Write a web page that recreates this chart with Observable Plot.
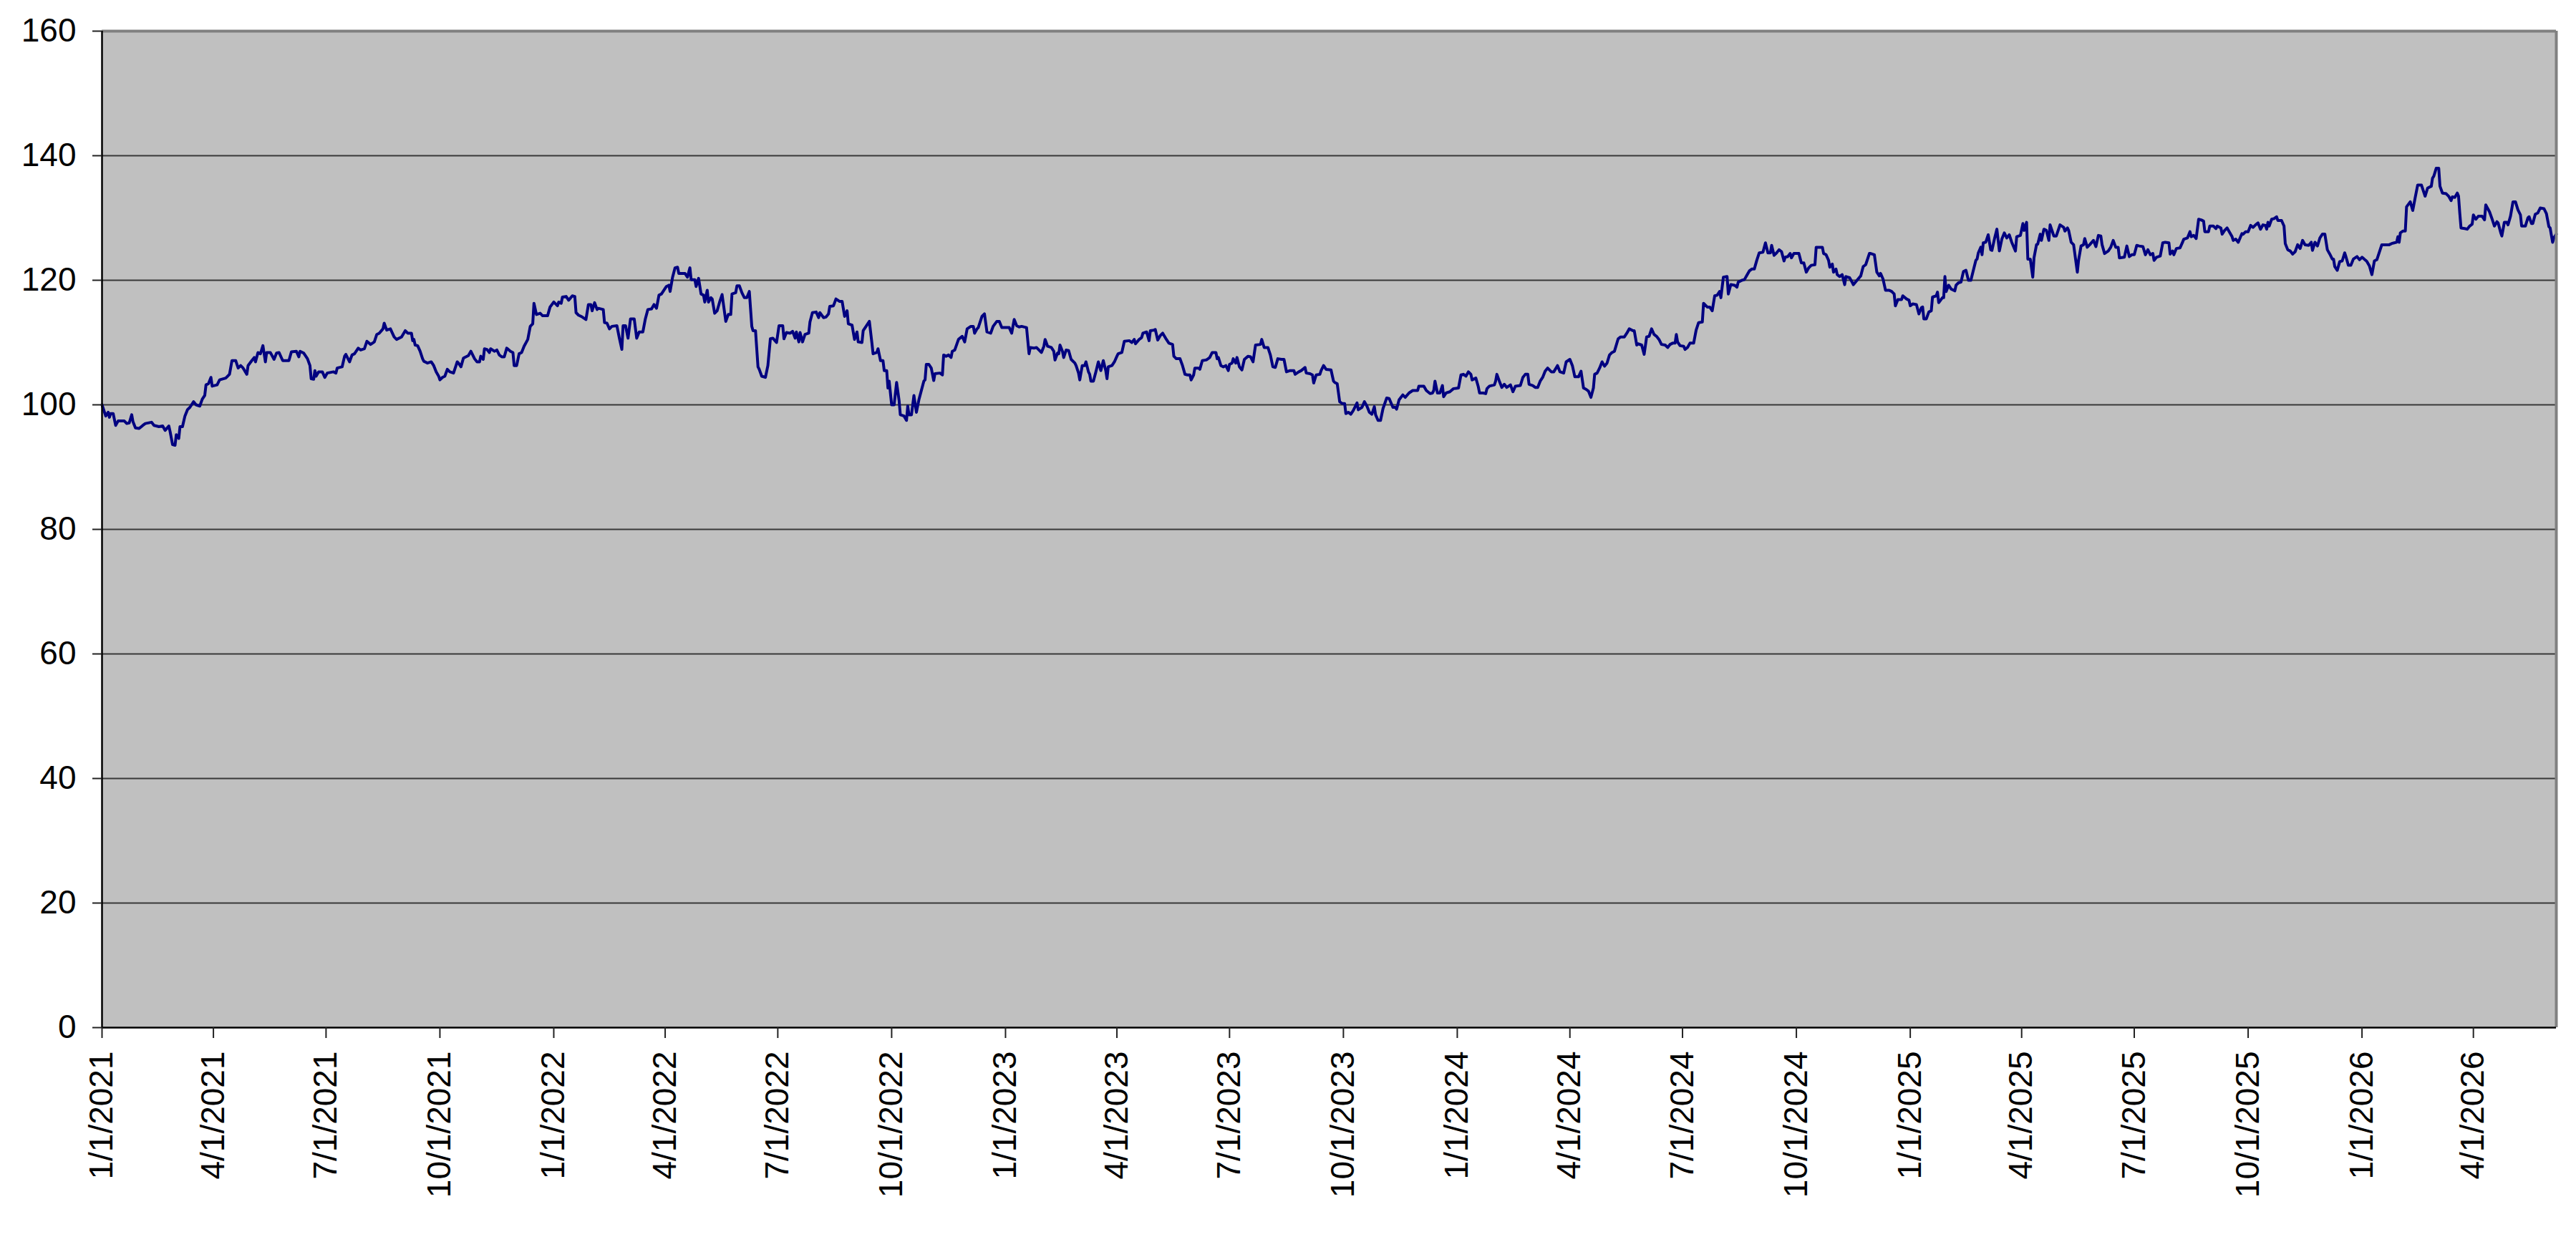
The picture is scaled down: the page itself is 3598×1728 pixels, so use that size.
<!DOCTYPE html>
<html>
<head>
<meta charset="utf-8">
<script src="https://cdn.jsdelivr.net/npm/d3@7"></script>
<script src="https://cdn.jsdelivr.net/npm/@observablehq/plot@0.6"></script>
<style>
  html, body { margin: 0; padding: 0; background: #ffffff; }
  #chart svg { display: block; }
</style>
</head>
<body>
<div id="chart"></div>
<script>
// ---- data (month-day per year) ----
const md2021 = [
"01-01","01-04","01-06","01-07","01-08","01-10","01-12","01-14","01-19","01-21",
"01-23","01-25","01-26","01-28","01-31","02-03","02-05","02-10","02-12","02-16",
"02-19","02-21","02-24","02-25","02-27","03-01","03-02","03-04","03-05","03-07",
"03-09","03-11","03-13","03-16","03-18","03-21","03-23","03-25","03-26","03-28",
"03-30","03-31","04-04","04-06","04-11","04-14","04-16","04-19","04-21","04-23",
"04-25","04-28","04-29","05-02","05-04","05-05","05-07","05-09","05-11","05-13",
"05-14","05-17","05-20","05-22","05-24","05-27","06-01","06-03","06-07","06-09",
"06-10","06-13","06-16","06-18","06-19","06-21","06-22","06-23","06-25","06-28",
"06-30","07-02","07-07","07-09","07-10","07-14","07-16","07-17","07-20","07-22",
"07-24","07-27","07-29","08-01","08-03","08-06","08-09","08-11","08-13","08-16",
"08-17","08-19","08-22","08-25","08-27","08-31","09-03","09-05","09-08","09-09",
"09-10","09-11","09-13","09-15","09-17","09-18","09-21","09-24","09-26","09-28",
"09-30","10-01","10-03","10-05","10-07","10-09","10-12","10-15","10-16","10-18",
"10-20","10-24","10-26","10-29","10-31","11-02","11-03","11-05","11-06","11-08",
"11-10","11-11","11-14","11-16","11-18","11-20","11-22","11-24","11-27","11-29",
"11-30","12-02","12-04","12-06","12-08","12-11","12-13","12-15","12-16","12-18",
"12-21","12-23","12-27","12-29"];
const v2021 = [
100.0,98.2,98.8,98.0,98.6,98.6,96.7,97.4,97.4,97.0,
97.1,98.4,97.3,96.3,96.2,96.7,97.0,97.2,96.7,96.5,
96.6,95.9,96.6,95.7,93.6,93.5,95.2,94.6,96.5,96.5,
98.2,99.2,99.6,100.5,100.0,99.8,100.9,101.5,103.2,103.4,
104.4,103.0,103.2,104.0,104.3,104.9,107.1,107.1,105.9,106.3,
105.9,104.9,106.3,107.1,107.6,106.9,108.4,108.2,109.5,106.9,
108.4,108.4,107.3,108.3,108.4,107.1,107.1,108.5,108.6,107.7,
108.6,108.3,107.4,106.3,104.2,104.1,105.5,104.6,105.3,105.3,
104.4,105.1,105.3,105.1,105.9,106.1,107.8,108.1,106.9,108.0,
108.2,109.1,108.8,109.0,110.2,109.7,110.1,111.3,111.5,112.2,
113.1,112.0,112.2,110.9,110.5,110.9,111.9,111.5,111.5,110.3,
110.5,109.6,109.5,108.6,107.4,107.0,106.7,106.9,106.3,105.3,
104.6,104.0,104.4,104.6,105.7,105.3,105.1,106.9,106.7,106.1,
107.5,107.9,108.6,107.4,106.9,106.9,107.8,107.3,109.0,108.9,
108.4,109.0,108.6,108.8,108.0,107.7,107.7,109.1,108.6,108.4,
106.3,106.3,108.2,108.4,109.4,110.5,112.6,113.0,116.3,114.5,
114.7,114.3,114.3,115.7];

const md2022 = [
"01-01","01-04","01-05","01-07","01-08","01-11","01-13","01-16","01-18","01-19",
"01-21","01-24","01-27","01-29","01-31","02-01","02-03","02-05","02-06","02-10",
"02-11","02-13","02-15","02-17","02-21","02-23","02-25","02-26","02-28","03-02",
"03-04","03-07","03-09","03-11","03-14","03-16","03-18","03-21","03-23","03-25",
"03-27","03-29","03-31","04-02","04-04","04-05","04-07","04-09","04-11","04-12",
"04-17","04-19","04-21","04-22","04-25","04-26","04-28","04-30","05-02","05-03",
"05-05","05-06","05-08","05-09","05-11","05-13","05-15","05-17","05-20","05-22",
"05-24","05-25","05-28","05-29","05-31","06-02","06-04","06-06","06-08","06-10",
"06-11","06-13","06-15","06-16","06-18","06-21","06-23","06-25","06-27","06-30",
"07-02","07-05","07-06","07-08","07-11","07-13","07-15","07-16","07-18","07-19",
"07-21","07-23","07-26","07-27","07-29","08-01","08-03","08-04","08-07","08-09",
"08-11","08-12","08-15","08-17","08-20","08-22","08-24","08-26","08-27","08-30",
"09-01","09-03","09-04","09-07","09-08","09-11","09-13","09-15","09-16","09-19",
"09-20","09-22","09-24","09-25","09-27","09-28","09-29","10-01","10-03","10-05",
"10-07","10-08","10-11","10-13","10-14","10-15","10-17","10-19","10-21","10-23",
"10-25","10-27","10-28","10-29","10-31","11-02","11-04","11-05","11-09","11-11",
"11-12","11-14","11-16","11-18","11-19","11-21","11-24","11-27","11-29","12-01",
"12-04","12-06","12-07","12-09","12-10","12-13","12-15","12-17","12-20","12-22",
"12-25","12-27","12-29"];
const v2022 = [
116.5,115.9,116.5,116.3,117.3,117.4,116.8,117.5,117.4,114.8,
114.4,114.1,113.7,116.1,116.1,115.1,116.4,115.3,115.5,115.3,
113.2,113.1,112.2,112.6,112.7,110.7,108.9,112.7,112.7,110.7,
113.8,113.8,110.7,111.7,111.7,113.8,115.3,115.4,116.1,115.5,
117.6,117.8,118.4,119.0,119.2,118.2,120.5,122.0,122.1,121.1,
121.1,120.5,122.0,120.1,120.1,119.0,120.3,117.8,117.6,116.5,
118.4,116.5,117.2,117.0,114.7,115.1,116.5,117.7,113.4,114.5,
114.5,117.8,118.0,119.1,119.1,118.0,117.2,117.2,118.2,112.6,
111.9,111.9,106.1,105.7,104.6,104.4,106.3,110.6,110.7,110.0,
112.7,112.7,110.6,111.6,111.5,111.8,110.7,111.7,110.1,111.6,
110.1,111.3,111.5,113.3,114.8,114.9,114.0,114.8,114.0,114.1,
114.6,115.8,115.9,117.0,116.6,116.6,114.2,115.1,113.0,112.8,
110.5,111.7,110.1,110.0,111.9,112.8,113.4,110.0,108.2,108.4,
109.0,107.1,107.1,105.5,105.5,102.7,103.8,100.0,100.0,103.6,
100.7,98.4,98.2,97.5,99.8,98.4,98.4,101.5,98.8,100.8,
102.3,103.8,104.0,106.5,106.5,105.9,103.9,105.0,105.1,104.8,
108.0,107.8,108.0,107.6,108.6,108.8,110.5,111.0,110.1,112.2,
112.6,112.6,111.5,112.2,112.4,114.2,114.6,111.7,111.5,112.6,
113.4,113.4,112.4];

const md2023 = [
"01-02","01-04","01-06","01-08","01-10","01-12","01-14","01-18","01-19","01-20",
"01-21","01-24","01-26","01-29","01-30","02-01","02-02","02-04","02-07","02-09",
"02-10","02-12","02-13","02-14","02-16","02-17","02-19","02-21","02-23","02-26",
"02-27","03-01","03-02","03-04","03-06","03-07","03-09","03-10","03-11","03-13",
"03-15","03-17","03-19","03-21","03-23","03-24","03-25","03-28","03-30","04-01",
"04-02","04-05","04-07","04-11","04-13","04-15","04-16","04-19","04-21","04-22",
"04-25","04-27","04-28","05-01","05-02","05-04","05-06","05-08","05-11","05-13",
"05-16","05-17","05-19","05-22","05-24","05-26","05-28","05-30","05-31","06-02",
"06-03","06-06","06-07","06-09","06-12","06-13","06-15","06-17","06-20","06-21",
"06-22","06-24","06-26","06-28","06-30","07-01","07-03","07-04","07-06","07-07",
"07-09","07-11","07-13","07-16","07-18","07-20","07-22","07-26","07-27","07-29",
"08-01","08-03","08-05","08-07","08-09","08-12","08-14","08-16","08-19","08-22",
"08-23","08-26","08-28","08-31","09-01","09-04","09-06","09-07","09-09","09-12",
"09-13","09-15","09-17","09-21","09-23","09-24","09-26","09-28","09-30","10-02",
"10-03","10-05","10-07","10-09","10-12","10-13","10-16","10-18","10-20","10-22",
"10-24","10-26","10-27","10-29","10-31","11-02","11-05","11-07","11-10","11-12",
"11-13","11-15","11-18","11-20","11-23","11-26","11-30","12-01","12-05","12-07",
"12-10","12-12","12-13","12-14","12-16","12-18","12-20","12-21","12-23","12-26",
"12-29"];
const v2023 = [
112.4,112.4,111.5,113.7,112.7,112.5,112.6,112.4,110.3,108.2,
109.2,109.1,109.2,108.6,108.4,109.4,110.5,109.4,109.2,108.6,
107.2,108.3,108.2,109.6,108.6,107.6,108.8,108.7,107.3,106.7,
106.3,105.1,104.0,106.3,106.3,106.9,105.3,104.9,103.8,103.8,
105.3,106.9,105.5,107.1,105.5,104.2,106.1,106.3,106.9,107.8,
108.2,108.4,110.2,110.3,110.0,110.5,109.8,110.5,110.8,111.5,
111.7,110.3,111.9,112.0,112.1,110.4,111.1,111.5,110.5,109.9,
109.7,107.8,107.4,107.4,106.3,104.9,104.8,104.8,104.0,104.8,
105.9,105.9,105.7,107.1,107.2,107.3,107.6,108.4,108.4,107.4,
107.6,106.3,106.1,106.3,105.5,106.5,106.7,107.4,106.7,107.6,
106.1,105.6,107.3,107.8,107.7,106.9,109.6,109.7,110.5,109.2,
109.2,108.0,106.1,106.0,107.4,107.3,107.3,105.3,105.5,105.5,
104.9,105.3,105.5,106.0,105.1,105.0,104.8,103.5,104.8,104.9,
105.5,106.3,105.7,105.6,103.8,103.6,103.4,100.5,100.2,100.2,
98.6,98.8,98.5,99.1,100.3,99.2,99.6,100.5,99.8,98.8,
98.5,99.7,98.4,97.5,97.5,99.4,101.1,101.0,99.6,99.6,
99.3,100.8,101.6,101.2,101.9,102.3,102.3,103.0,103.0,102.3,
101.8,101.9,102.3,103.8,101.9,101.9,103.1,101.3,101.9,102.1,
102.6];

const md2024 = [
"01-02","01-04","01-06","01-08","01-10","01-12","01-13","01-16","01-18","01-19",
"01-22","01-24","01-25","01-27","01-31","02-01","02-02","02-04","02-06","02-08",
"02-10","02-13","02-15","02-17","02-21","02-23","02-25","02-27","02-28","03-02",
"03-04","03-06","03-08","03-10","03-12","03-14","03-17","03-19","03-22","03-24",
"03-27","03-29","04-01","04-03","04-05","04-08","04-10","04-12","04-14","04-16",
"04-18","04-20","04-21","04-23","04-25","04-27","04-29","05-01","05-03","05-05",
"05-07","05-10","05-12","05-15","05-17","05-19","05-22","05-23","05-25","05-26",
"05-29","05-31","06-02","06-04","06-06","06-08","06-10","06-12","06-14","06-17",
"06-19","06-21","06-23","06-25","06-26","06-27","06-29","07-02","07-03","07-05",
"07-07","07-10","07-12","07-14","07-17","07-18","07-21","07-23","07-25","07-27",
"07-29","07-31","08-01","08-03","08-06","08-07","08-09","08-12","08-14","08-15",
"08-18","08-20","08-22","08-24","08-26","08-28","08-30","09-01","09-04","09-06",
"09-08","09-10","09-11","09-13","09-15","09-17","09-19","09-21","09-22","09-24",
"09-26","09-27","09-29","10-03","10-05","10-07","10-09","10-11","10-13","10-16",
"10-17","10-20","10-22","10-23","10-25","10-27","10-28","10-30","10-31","11-02",
"11-03","11-05","11-07","11-09","11-10","11-13","11-15","11-16","11-19","11-22",
"11-24","11-26","11-29","11-30","12-03","12-05","12-07","12-08","12-10","12-12",
"12-15","12-17","12-19","12-20","12-22","12-25","12-26","12-29","12-31"];
const v2024 = [
102.7,104.8,104.9,104.6,105.3,104.9,104.0,104.3,102.9,101.9,
101.9,101.8,102.6,103.0,103.2,103.8,104.9,103.8,102.8,103.3,
102.8,103.2,102.1,103.0,103.1,104.4,104.9,104.9,103.3,103.1,
102.8,102.8,103.8,104.4,105.4,105.9,105.3,105.3,106.3,105.3,
105.1,106.9,107.3,106.3,104.5,104.5,105.4,102.7,102.5,102.2,
101.2,102.7,104.9,105.1,105.9,106.9,106.2,106.7,108.0,108.4,
108.6,110.6,110.9,110.9,111.5,112.2,111.9,111.9,109.6,109.8,
109.6,108.1,110.9,111.0,112.2,111.3,111.0,110.5,109.7,109.6,
109.2,109.7,109.9,109.9,111.3,110.1,109.5,109.4,108.9,109.2,
109.9,109.9,112.0,113.2,113.3,116.3,115.7,115.7,115.1,117.5,
117.6,118.2,117.2,120.5,120.6,117.8,119.3,119.2,118.9,119.7,
120.0,120.1,120.8,121.5,121.8,121.8,123.2,124.4,124.5,126.0,
124.4,124.4,125.6,124.0,124.4,124.9,124.6,123.1,123.7,123.8,
124.3,123.6,124.3,124.3,122.8,122.8,121.3,122.0,122.4,122.5,
125.3,125.3,125.3,124.3,124.1,123.2,122.1,122.6,121.3,121.8,
120.9,120.6,120.9,119.3,120.6,120.4,119.7,119.3,120.0,120.7,
122.2,122.5,124.3,124.3,124.1,121.3,120.7,121.1,120.2,118.4,
118.4,118.2,117.8,115.9,116.9,116.9,117.5,117.0,116.8];

const md2025 = [
"01-01","01-03","01-06","01-08","01-10","01-11","01-12","01-14","01-16","01-18",
"01-19","01-22","01-23","01-24","01-27","01-28","01-29","01-30","02-01","02-03",
"02-06","02-07","02-09","02-11","02-13","02-15","02-17","02-19","02-21","02-23",
"02-24","02-25","02-27","02-28","03-01","03-03","03-05","03-07","03-08","03-10",
"03-12","03-14","03-16","03-18","03-20","03-22","03-24","03-27","03-28","03-31",
"04-02","04-03","04-05","04-06","04-08","04-10","04-11","04-13","04-14","04-16",
"04-17","04-19","04-21","04-23","04-24","04-27","04-29","05-02","05-05","05-06",
"05-08","05-09","05-11","05-13","05-16","05-17","05-19","05-21","05-22","05-24",
"05-26","05-29","05-31","06-02","06-04","06-05","06-07","06-10","06-12","06-14",
"06-16","06-18","06-19","06-23","06-25","06-27","06-29","07-01","07-03","07-05",
"07-08","07-10","07-12","07-14","07-16","07-17","07-19","07-22","07-24","07-26",
"07-29","07-30","08-01","08-02","08-04","08-07","08-09","08-10","08-13","08-15",
"08-16","08-18","08-20","08-22","08-24","08-26","08-27","08-30","08-31","09-03",
"09-05","09-06","09-09","09-10","09-12","09-14","09-16","09-18","09-19","09-21",
"09-23","09-26","09-27","09-29","10-01","10-03","10-05","10-07","10-09","10-11",
"10-13","10-15","10-16","10-17","10-18","10-20","10-22","10-24","10-25","10-28",
"10-30","10-31","11-02","11-04","11-06","11-08","11-10","11-12","11-14","11-16",
"11-19","11-21","11-22","11-24","11-26","11-28","11-30","12-02","12-04","12-06",
"12-08","12-09","12-10","12-12","12-14","12-16","12-18","12-19","12-21","12-23",
"12-25","12-28","12-30"];
const v2025 = [
115.9,116.2,116.1,114.6,115.6,115.7,113.8,113.8,114.9,115.1,
117.3,117.5,118.1,116.4,117.2,117.2,120.6,118.2,119.2,118.6,
118.3,119.2,119.6,119.7,121.4,121.6,120.0,120.0,121.6,123.2,
123.4,124.4,125.3,124.1,126.0,126.1,127.3,124.9,124.8,126.6,
128.2,124.7,126.6,127.6,126.8,127.3,126.1,124.7,127.0,127.2,
129.1,128.0,129.3,123.4,123.4,120.5,123.6,125.7,125.8,127.4,
126.4,128.2,128.0,126.4,128.9,127.1,127.1,128.9,128.5,127.9,
128.4,128.0,126.1,125.7,121.3,123.2,125.5,125.7,126.7,125.3,
125.7,126.4,125.4,127.2,127.1,125.7,124.3,124.7,125.3,126.4,
125.3,125.3,123.6,123.7,125.5,123.8,124.1,124.1,125.6,125.5,
125.4,124.1,124.9,124.1,124.3,123.2,123.7,123.9,126.0,126.1,
126.0,124.2,124.7,124.1,125.1,125.2,126.1,126.6,126.8,127.8,
127.0,127.2,126.7,129.8,129.7,129.5,127.8,127.8,128.7,128.7,
128.3,128.7,128.4,127.4,128.0,128.4,127.7,127.0,126.4,126.6,
126.1,127.5,127.4,127.8,127.8,128.8,128.5,128.9,129.2,128.2,
128.9,128.8,128.2,129.3,128.7,129.8,129.9,130.2,129.6,129.6,
128.7,125.9,124.9,124.7,124.2,124.6,125.7,125.1,126.4,125.7,
125.6,126.1,124.8,126.1,125.5,126.8,127.4,127.4,124.9,124.2,
123.4,123.4,122.2,121.6,123.0,123.1,124.4,123.8,122.4,122.4,
123.4,123.8,123.3];

const md2026 = [
"01-01","01-04","01-05","01-07","01-09","01-11","01-13","01-15","01-17","01-19",
"01-23","01-25","01-27","01-29","01-30","01-31","02-01","02-03","02-05","02-06",
"02-09","02-11","02-13","02-15","02-18","02-21","02-23","02-26","02-27","02-28",
"03-02","03-04","03-05","03-07","03-10","03-12","03-14","03-15","03-17","03-19",
"03-20","03-21","03-22","03-25","03-27","03-29","03-31","04-01","04-03","04-05",
"04-08","04-10","04-11","04-14","04-16","04-18","04-20","04-21","04-23","04-24",
"04-26","04-28","04-29","05-01","05-03","05-05","05-07","05-09","05-10","05-13",
"05-15","05-16","05-18","05-19","05-21","05-23","05-25","05-28","05-30","06-01",
"06-02","06-04","06-05","06-07"];
const v2026 = [
123.7,123.2,123.0,122.3,120.9,123.1,123.3,124.5,125.7,125.7,
125.7,125.9,126.0,126.1,127.0,126.1,127.6,127.9,127.9,131.8,
132.6,131.2,133.3,135.3,135.3,133.5,134.8,135.1,136.4,136.7,
138.0,138.0,135.1,134.0,133.9,133.5,132.8,133.4,133.3,134.0,
133.5,130.8,128.4,128.3,128.2,128.7,129.0,130.5,129.8,130.3,
130.3,129.7,132.1,131.0,129.9,128.7,129.4,129.2,127.7,127.1,
129.3,129.3,128.9,130.3,132.6,132.6,131.3,130.5,128.7,128.7,
130.0,130.2,129.1,129.1,130.6,130.8,131.6,131.5,130.7,128.6,
128.4,126.1,126.8,127.4];

// axis ticks
const yTicks = [0, 20, 40, 60, 80, 100, 120, 140, 160];
const xTicks = [
"2021-01-01","2021-04-01","2021-07-01","2021-10-01",
"2022-01-01","2022-04-01","2022-07-01","2022-10-01",
"2023-01-01","2023-04-01","2023-07-01","2023-10-01",
"2024-01-01","2024-04-01","2024-07-01","2024-10-01",
"2025-01-01","2025-04-01","2025-07-01","2025-10-01",
"2026-01-01","2026-04-01"];
const xStart = "2021-01-01";
const xEnd = "2026-06-07";

// ---- build table ----
const series = [
  [2021, md2021, v2021], [2022, md2022, v2022], [2023, md2023, v2023],
  [2024, md2024, v2024], [2025, md2025, v2025], [2026, md2026, v2026]
];
const data = series.flatMap(([yr, md, vals]) =>
  md.map((d, i) => ({ date: new Date(`${yr}-${d}T00:00:00Z`), value: vals[i] }))
).filter(d => d.value != null);

const toDate = s => new Date(s + "T00:00:00Z");
const x0 = toDate(xStart), x1 = toDate(xEnd);
const fmt = d3.utcFormat("%-m/%-d/%Y");

const chart = Plot.plot({
  width: 3598,
  height: 1728,
  marginLeft: 142,
  marginRight: 28,
  marginTop: 43,
  marginBottom: 293,
  style: {
    fontFamily: "'Liberation Sans', Arial, Helvetica, sans-serif",
    fontSize: "46px",
    color: "#000000",
    background: "#ffffff"
  },
  x: { type: "utc", domain: [x0, x1], label: null },
  y: { domain: [0, 160], label: null },
  marks: [
    Plot.frame({ fill: "#c0c0c0", stroke: null }),
    Plot.ruleY(yTicks.filter(t => t > 0 && t < 160), { stroke: "#383838", strokeWidth: 2 }),
    Plot.lineY(data, { x: "date", y: "value", stroke: "#000080", strokeWidth: 4, strokeLinejoin: "round" }),
    Plot.ruleY([160], { stroke: "#808080", strokeWidth: 4 }),
    Plot.ruleX([x1], { stroke: "#808080", strokeWidth: 4 }),
    Plot.ruleX([x0], { stroke: "#000000", strokeWidth: 2.5 }),
    Plot.ruleY([0], { stroke: "#000000", strokeWidth: 2.5 }),
    Plot.axisY({
      ticks: yTicks,
      tickSize: 13,
      tickPadding: 23,
      strokeWidth: 2,
      stroke: "#222",
      fontSize: 46,
      label: null
    }),
    Plot.axisX({
      ticks: xTicks.map(toDate),
      tickFormat: fmt,
      tickRotate: -90,
      tickSize: 15,
      tickPadding: 18,
      strokeWidth: 2,
      stroke: "#222",
      fontSize: 46,
      label: null
    })
  ]
});

document.getElementById("chart").appendChild(chart);
</script>
</body>
</html>
